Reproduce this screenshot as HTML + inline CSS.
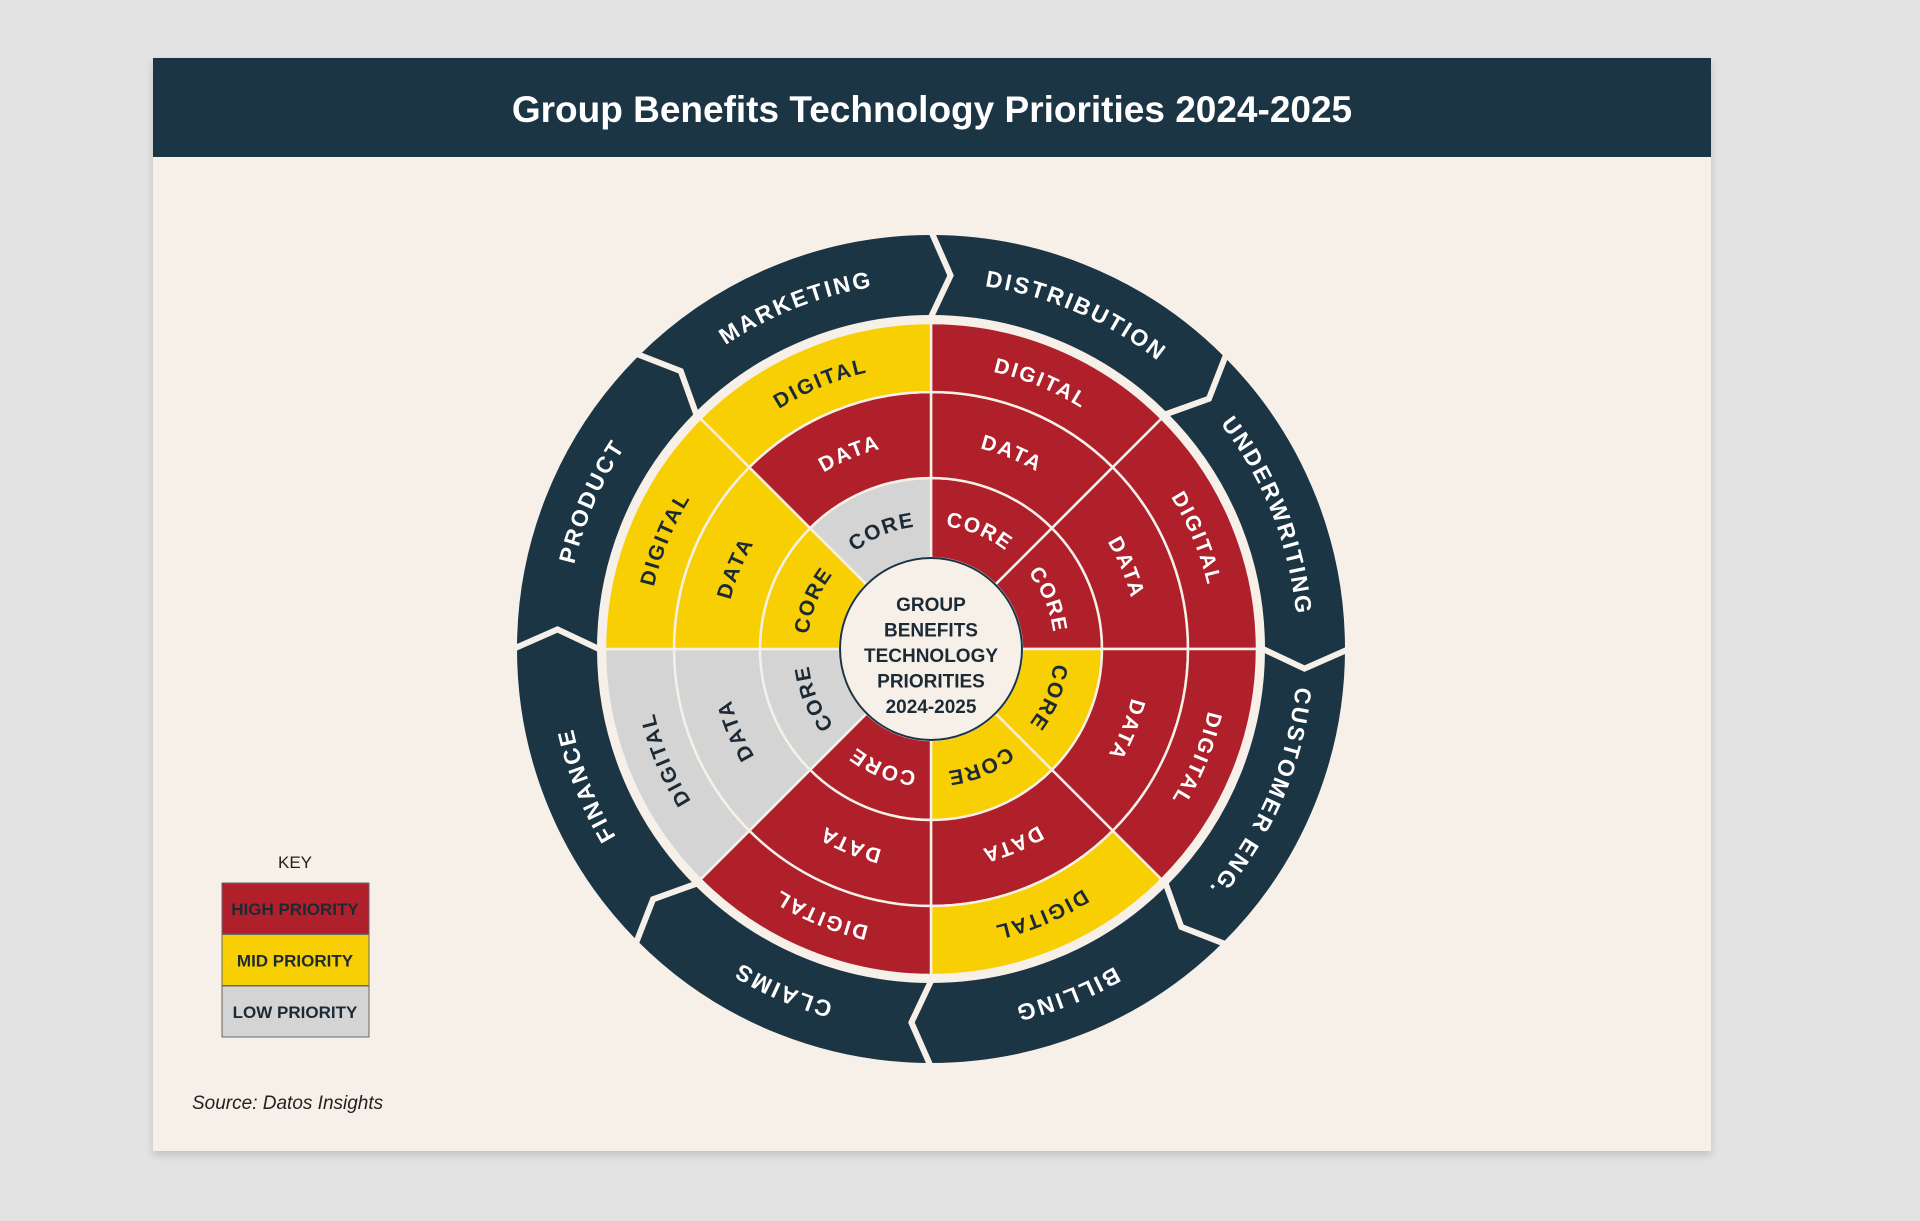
<!DOCTYPE html>
<html><head><meta charset="utf-8"><style>
html,body{margin:0;padding:0;background:#e3e3e3;}
body{width:1920px;height:1221px;position:relative;overflow:hidden;font-family:"Liberation Sans",sans-serif;}
#card{position:absolute;left:153px;top:58px;width:1558px;height:1093px;background:#f6f0e8;box-shadow:0 4px 8px rgba(0,0,0,0.15);}
#hdr{position:absolute;left:0;top:0;width:1558px;height:99px;background:#1c3545;color:#fff;font-weight:bold;font-size:37px;text-align:center;line-height:103px;}
</style></head><body>
<div id="card">
<div id="hdr">Group Benefits Technology Priorities 2024-2025</div>
</div>
<svg id="svg" width="1920" height="1221" style="position:absolute;left:0;top:0"></svg>
<script>
const sectors=["DISTRIBUTION","UNDERWRITING","CUSTOMER ENG.","BILLING","CLAIMS","FINANCE","PRODUCT","MARKETING"];
const ringNames=["CORE","DATA","DIGITAL"];
const corePriority=["high","high","mid","mid","high","low","mid","low"];
const dataPriority=["high","high","high","high","high","low","mid","high"];
const digitalPriority=["high","high","high","mid","high","low","mid","mid"];
const keyLabels=["HIGH PRIORITY","MID PRIORITY","LOW PRIORITY"];
const keyLevels=["high","mid","low"];

const colors={high:"#b0202a",mid:"#f8cf03",low:"#d4d4d4"};
const textCol={high:"#ffffff",mid:"#1c2a35",low:"#1c2a35"};
const cx=931,cy=649;
const ringR=[[91,171],[171,257],[257,326]];
const outerR=[334,414];
const NS="http://www.w3.org/2000/svg";
const svg=document.getElementById('svg');
function P(r,a){const t=a*Math.PI/180;return [cx+r*Math.sin(t),cy-r*Math.cos(t)];}
function mk(tag,attrs,parent){const e=document.createElementNS(NS,tag);for(const k in attrs)e.setAttribute(k,attrs[k]);(parent||svg).appendChild(e);return e;}
const defs=mk('defs',{});
let pid=0;
function arcText(r,a0,a1,txt,fill,size,name){
  const id='p'+(pid++);
  const s=P(r,a0),e=P(r,a1);
  mk('path',{id:id,d:`M${s[0]},${s[1]} A${r},${r} 0 0 1 ${e[0]},${e[1]}`,fill:'none'},defs);
  const t=mk('text',{fill:fill,'font-size':size,'font-weight':'bold','letter-spacing':size*0.12,'font-family':'Liberation Sans, sans-serif',dy:'0.36em'});
  
  
  const tp=mk('textPath',{href:'#'+id,startOffset:'50%','text-anchor':'middle'},t);
  tp.textContent=txt;
}
// outer ring
const outer=mk('circle',{cx:cx,cy:cy,r:(outerR[0]+outerR[1])/2,fill:'none',stroke:'#1c3545','stroke-width':outerR[1]-outerR[0]});


sectors.forEach((s,i)=>{
  const a=i*45;
  const p1=P(outerR[1]+4,a),p2=P((outerR[0]+outerR[1])/2,a+3),p3=P(outerR[0]-2,a);
  const ch=mk('polyline',{points:`${p1} ${p2} ${p3}`,fill:'none',stroke:'#f6f0e8','stroke-width':6});
  
  
  arcText(375,a+1,a+45+1,s,'#ffffff',23,'department-label');
});
// rings
const pr=[corePriority,dataPriority,digitalPriority];
for(let ri=0;ri<3;ri++){
  const [r0,r1]=ringR[ri];
  for(let i=0;i<8;i++){
    const a0=i*45,a1=a0+45,lv=pr[ri][i];
    const A=P(r1,a0),B=P(r1,a1),C=P(r0,a1),D=P(r0,a0);
    const w=mk('path',{d:`M${A} A${r1},${r1} 0 0 1 ${B} L${C} A${r0},${r0} 0 0 0 ${D} Z`,fill:colors[lv],stroke:'#f6f0e8','stroke-width':2.5});
    
    
    arcText((r0+r1)/2,a0,a1,ringNames[ri],textCol[lv],21,'segment-label');
  }
}
const cc=mk('circle',{cx:cx,cy:cy,r:91,fill:'#f6f0e8',stroke:'#1c3545','stroke-width':2});


["GROUP","BENEFITS","TECHNOLOGY","PRIORITIES","2024-2025"].forEach((l,i)=>{
  const t=mk('text',{x:cx,y:611+i*25.5,'text-anchor':'middle',fill:'#1c2a35','font-size':19,'font-weight':'bold'});
  
  
  t.textContent=l;
});
// key
const kt=mk('text',{x:295,y:868,'text-anchor':'middle',fill:'#222','font-size':17});


kt.textContent='KEY';
keyLevels.forEach((lv,i)=>{
  const y=883+i*51.5;
  const r=mk('rect',{x:222,y:y,width:147,height:51,fill:colors[lv],stroke:'#666','stroke-width':1});
  
  
  const t=mk('text',{x:295,y:y+32,'text-anchor':'middle',fill:'#1c2a35','font-size':17,'font-weight':'bold'});
  
  
  t.textContent=keyLabels[i];
});
const src=mk('text',{x:192,y:1109,fill:'#222','font-size':19,'font-style':'italic'});


src.textContent='Source: Datos Insights';
</script>
</body></html>
